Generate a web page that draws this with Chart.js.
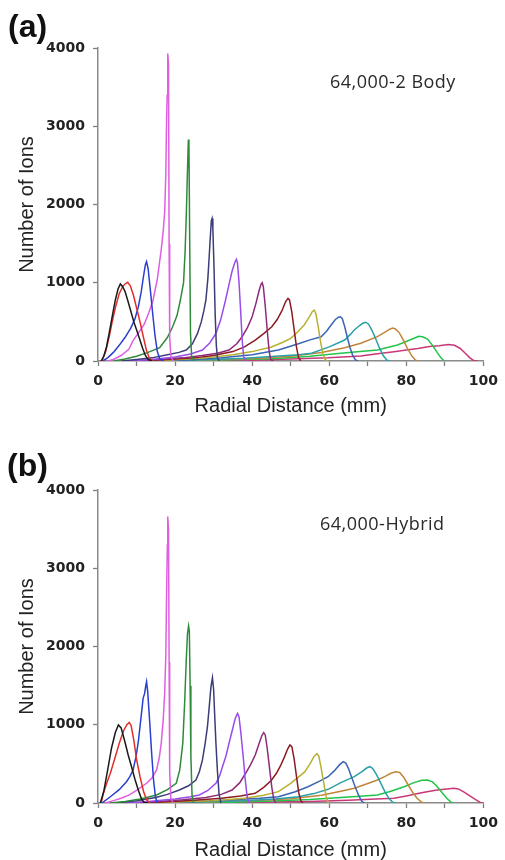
<!DOCTYPE html>
<html>
<head>
<meta charset="utf-8">
<script src="https://cdn.jsdelivr.net/npm/chart.js@4.4.1/dist/chart.umd.min.js"></script>
<style>
  html, body { margin: 0; padding: 0; background: #fff; }
  body { width: 505px; height: 860px; position: relative; overflow: hidden; }
  canvas { position: absolute; left: 0; }
  #chartA { top: 0; }
  #chartB { top: 430px; }
  .panel { position: absolute; font: bold 32px "Liberation Sans", Arial, sans-serif; line-height: 32px; color: #111; }
  .inset { position: absolute; font: 18px "Open Sans", sans-serif; line-height: 18px; letter-spacing: 0.5px; color: #2a2a2a; }
</style>
</head>
<body>
<canvas id="chartA" width="505" height="430"></canvas>
<canvas id="chartB" width="505" height="430"></canvas>
<div class="panel" style="left:8px; top:10px;">(a)</div>
<div class="panel" style="left:7px; top:449px;">(b)</div>
<div class="inset" style="left:330px; top:72px;">64,000-2 Body</div>
<div class="inset" style="left:320px; top:514px;">64,000-Hybrid</div>
<script>
// axis ticks
const yTicks = [0, 1000, 2000, 3000, 4000];
const xTicks = [0, 20, 40, 60, 80, 100];

// line colours, one per ion group (same order in both panels)
const colors = ['#1a1a1a', '#e0302a', '#2a3fd0', '#e05ee0', '#2e8b3a', '#3c3c78', '#9a4ce8',
                '#8e2a78', '#8b1c22', '#b8b030', '#3a64b4', '#2aa0a8', '#c0863a', '#22c44a', '#c83878'];

// (a) 64,000-2 Body : [radial distance mm, number of ions]
const a01 = [[0.8,0],[1.5,60],[2.2,180],[3,380],[3.8,600],[4.5,780],[5.2,920],[5.8,985],[6.4,950],[7,890],[7.8,760],[8.5,640],[9.3,500],[10,400],[10.8,280],[11.6,160],[12.3,70],[13,20],[14,0]];
const a02 = [[1,0],[2,120],[3,330],[3.6,480],[4.5,680],[5.5,860],[6.5,960],[7.2,990],[7.7,1005],[8.4,960],[9.2,840],[10,680],[10.9,500],[11.8,300],[12.6,130],[13.4,30],[14.2,0]];
const a03 = [[1.2,0],[2.5,40],[4,110],[5.5,200],[7,300],[8.5,420],[9.6,540],[10.5,700],[11.2,880],[11.8,1080],[12.3,1230],[12.6,1270],[13,1180],[13.6,900],[14.2,600],[14.8,320],[15.4,120],[16,30],[17,0]];
const a04 = [[2.5,0],[4,20],[6,70],[8,150],[9.1,260],[10.5,360],[12,470],[13.2,620],[14.3,780],[15.4,1050],[16.4,1420],[16.9,1650],[17.3,1900],[17.6,2400],[17.8,3100],[17.95,3400],[18.1,3930],[18.3,3800],[18.45,1500],[18.6,300],[18.9,60],[19.5,0]];
const a05 = [[4,0],[7,25],[10,60],[13,110],[16,170],[18,300],[19.4,440],[20.5,580],[21.3,760],[22.2,1000],[22.6,1400],[22.9,1850],[23.2,2400],[23.45,2830],[23.6,2750],[23.8,1500],[24,350],[24.3,60],[25,0]];
const a06 = [[6,0],[10,20],[14,40],[18,80],[21,110],[22.9,140],[24.5,220],[25.8,350],[26.8,500],[27.5,650],[28,780],[28.5,1050],[28.8,1290],[29.1,1550],[29.4,1790],[29.6,1820],[29.8,1700],[30.1,1200],[30.4,600],[30.7,200],[31,40],[31.5,0]];
const a07 = [[8,0],[14,20],[20,50],[24,90],[27.1,140],[29,230],[30.6,354],[31.8,520],[33.1,780],[34,980],[34.8,1150],[35.5,1260],[35.9,1300],[36.2,1250],[36.6,1000],[37,650],[37.4,280],[37.8,50],[38.5,0]];
const a08 = [[10,0],[16,20],[22,40],[27,70],[31,100],[34,140],[36,220],[37.4,310],[38.8,430],[40,566],[41,740],[41.8,900],[42.3,980],[42.6,1000],[42.9,950],[43.4,700],[43.9,400],[44.4,130],[44.8,20],[45.5,0]];
const a09 = [[12,0],[18,20],[25,40],[30,70],[35,120],[38,180],[40.8,268],[43,350],[45.1,438],[46.5,530],[47.7,640],[48.7,760],[49.3,800],[49.7,780],[50.3,620],[50.9,400],[51.5,180],[52,50],[52.6,0]];
const a10 = [[14,0],[20,15],[28,40],[35,80],[40,120],[45,180],[48,240],[50,290],[52,380],[53.5,460],[54.8,560],[55.6,630],[56.1,650],[56.5,610],[57.1,450],[57.7,260],[58.3,100],[58.9,20],[59.5,0]];
const a11 = [[16,0],[24,15],[32,40],[40,80],[46.8,140],[52,220],[55,270],[57.9,310],[59.3,380],[60.5,460],[61.6,530],[62.4,560],[62.9,566],[63.4,540],[64,440],[64.7,300],[65.4,170],[66.1,70],[66.8,15],[67.5,0]];
const a12 = [[18,0],[28,15],[38,35],[46,60],[52,80],[55.4,100],[60,180],[64,268],[65.5,340],[66.5,396],[67.8,450],[68.8,485],[69.5,495],[70.2,470],[71,400],[72,290],[73,170],[74,70],[75,10],[75.8,0]];
const a13 = [[20,0],[30,15],[40,30],[50,60],[58,110],[64,170],[68.2,226],[72.5,311],[74.5,370],[75.8,410],[76.5,420],[77.2,410],[78.2,360],[79.3,260],[80.4,150],[81.5,60],[82.4,10],[83,0]];
const a14 = [[22,0],[35,15],[45,30],[55,60],[63,100],[68,120],[72.5,140],[77.7,204],[80,250],[82,290],[83.2,315],[84.2,310],[85.5,280],[86.8,200],[88,110],[89,40],[89.8,0]];
const a15 = [[24,0],[40,10],[50,25],[59.7,40],[68.2,64],[72,90],[76.8,119],[80,140],[83,160],[86,185],[88.5,195],[90.9,210],[92.5,200],[94,160],[95.3,100],[96.5,40],[97.5,5],[98.5,0]];

// (b) 64,000-Hybrid
const b01 = [[0.6,0],[1.5,150],[2.5,420],[3.5,700],[4.5,900],[5.3,997],[6,960],[7,780],[7.8,620],[8.7,464],[9.6,300],[10.5,160],[11.3,50],[12,5],[13,0]];
const b02 = [[0.8,0],[1.4,124],[2.3,260],[3.2,380],[4.3,560],[5.5,760],[6.6,920],[7.5,1000],[8.1,1030],[8.6,990],[9.3,800],[10,560],[10.9,336],[11.8,150],[12.6,40],[13.4,0]];
const b03 = [[1,0],[3.2,80],[5.5,170],[7.4,272],[8.3,340],[9.1,422],[9.9,600],[10.5,800],[10.9,975],[11.4,1200],[11.7,1338],[12.1,1400],[12.4,1500],[12.6,1550],[12.9,1420],[13.4,1050],[13.9,650],[14.4,300],[14.9,80],[15.4,0]];
const b04 = [[2,0],[4,30],[6,60],[8,100],[10,160],[12.6,252],[14,320],[15.2,422],[15.9,580],[16.4,763],[16.9,1050],[17.3,1400],[17.6,1900],[17.8,2700],[18,3300],[18.1,3660],[18.3,3500],[18.45,1800],[18.6,400],[18.9,60],[19.5,0]];
const b05 = [[3,0],[7,20],[11,50],[15.2,102],[18,170],[20.3,252],[21.2,420],[22,763],[22.5,1300],[22.9,1827],[23.2,2150],[23.5,2262],[23.7,2200],[23.9,1500],[24.1,600],[24.4,100],[24.8,0]];
const b06 = [[5,0],[10,30],[15,70],[18,110],[21.1,166],[23.5,220],[25.4,294],[26.3,400],[27.1,550],[27.8,760],[28.4,975],[28.9,1250],[29.3,1480],[29.7,1600],[30,1450],[30.3,1100],[30.6,763],[31,400],[31.4,120],[31.9,0]];
const b07 = [[7,0],[13,20],[20,50],[24,80],[26.3,102],[28.5,160],[30.6,252],[31.5,340],[32.3,464],[33.2,600],[34,763],[34.8,920],[35.6,1080],[36.2,1146],[36.6,1100],[37.1,880],[37.7,580],[38.2,300],[38.7,80],[39.2,0]];
const b08 = [[9,0],[16,20],[22,40],[28,70],[32,110],[34.8,166],[36.8,260],[38.3,380],[39.6,490],[40.8,613],[41.8,760],[42.5,860],[43,899],[43.4,870],[43.9,700],[44.5,450],[45.1,200],[45.6,50],[46.1,0]];
const b09 = [[11,0],[18,15],[25,35],[32,60],[37,90],[40.8,124],[43,200],[45,290],[46.3,380],[47.3,470],[48.3,580],[49.2,690],[49.8,741],[50.3,720],[50.9,560],[51.5,340],[52.1,130],[52.7,20],[53.2,0]];
const b10 = [[13,0],[22,15],[30,30],[38,60],[43,100],[46.8,145],[50,250],[52,330],[53.7,400],[55,500],[56,590],[56.8,630],[57.3,600],[57.9,450],[58.6,250],[59.2,80],[59.8,0]];
const b11 = [[15,0],[25,15],[35,40],[42,60],[46.8,80],[51,140],[54.5,208],[57.5,280],[59.7,336],[61.3,410],[62.7,490],[63.6,528],[64.3,510],[65,440],[65.8,330],[66.7,210],[67.6,100],[68.4,25],[69.1,0]];
const b12 = [[17,0],[28,15],[38,30],[46,50],[52,80],[56,120],[59.7,175],[63,260],[66.5,336],[68.5,400],[69.8,450],[70.6,464],[71.3,440],[72.3,360],[73.4,250],[74.5,140],[75.6,50],[76.6,5],[77.2,0]];
const b13 = [[19,0],[30,15],[40,30],[50,55],[58,100],[63,150],[66.5,188],[70,250],[72.5,294],[74.5,340],[76,380],[77.3,400],[78.3,390],[79.3,330],[80.5,230],[81.7,130],[82.8,60],[84,10],[84.8,0]];
const b14 = [[21,0],[35,10],[45,25],[55,45],[63,70],[68,85],[72.5,102],[76,150],[79.4,208],[82,260],[84,290],[85.5,294],[86.8,270],[88,210],[89.3,130],[90.5,60],[91.5,15],[92.3,0]];
const b15 = [[23,0],[40,10],[55,20],[65,35],[72,50],[76.8,60],[80,90],[83,120],[85.4,145],[88,165],[90.5,180],[92.3,188],[93.5,180],[95,140],[96.5,90],[98.2,38],[99.2,8],[99.8,0]];

const seriesA = [a01, a02, a03, a04, a05, a06, a07, a08, a09, a10, a11, a12, a13, a14, a15];
const seriesB = [b01, b02, b03, b04, b05, b06, b07, b08, b09, b10, b11, b12, b13, b14, b15];

function makeChart(id, series, padTop, padBottom) {
    const ctx = document.getElementById(id).getContext('2d');
    const canvasH = 430;
    return new Chart(ctx, {
        type: 'line',
        data: {
            datasets: series.map((pts, i) => ({
                data: pts,
                borderColor: colors[i],
                borderWidth: 1.5,
                pointRadius: 0,
                tension: 0,
                fill: false
            }))
        },
        options: {
            responsive: false,
            animation: false,
            layout: { padding: { left: 10, right: 18, top: padTop, bottom: padBottom } },
            plugins: { legend: { display: false }, tooltip: { enabled: false } },
            scales: {
                x: {
                    type: 'linear',
                    min: 0,
                    max: 100,
                    afterFit: (s) => { s.height = canvasH - padBottom - (padTop + 313); },
                    ticks: {
                        stepSize: 10,
                        autoSkip: false,
                        maxRotation: 0,
                        padding: 7,
                        color: '#222',
                        font: { family: 'DejaVu Sans', size: 14, weight: 'bold' },
                        callback: (v) => xTicks.includes(v) ? String(v) : ''
                    },
                    grid: { drawOnChartArea: false, drawTicks: true, tickLength: 5, tickColor: '#808080', tickWidth: 1.3 },
                    border: { display: true, color: '#8a8a8a', width: 1.5 },
                    title: {
                        display: true,
                        text: 'Radial Distance (mm)',
                        color: '#222',
                        padding: 0,
                        font: { family: 'Liberation Sans', size: 20, lineHeight: 1 }
                    }
                },
                y: {
                    min: 0,
                    max: 4000,
                    afterFit: (s) => { s.width = 88; },
                    ticks: {
                        stepSize: 500,
                        autoSkip: false,
                        padding: 8,
                        color: '#222',
                        font: { family: 'DejaVu Sans', size: 14, weight: 'bold' },
                        callback: (v) => yTicks.includes(v) ? String(v) : ''
                    },
                    grid: {
                        drawOnChartArea: false,
                        drawTicks: true,
                        tickLength: 5,
                        tickWidth: 1.3,
                        tickColor: (c) => (c.tick && yTicks.includes(c.tick.value)) ? '#808080' : 'rgba(0,0,0,0)'
                    },
                    border: { display: true, color: '#8a8a8a', width: 1.5 },
                    title: {
                        display: true,
                        text: 'Number of Ions',
                        color: '#222',
                        padding: { top: 7, bottom: 0 },
                        font: { family: 'Liberation Sans', size: 20, lineHeight: 1 }
                    }
                }
            }
        }
    });
}

makeChart('chartA', seriesA, 48, 14);
makeChart('chartB', seriesB, 60, 0);
</script>
</body>
</html>
